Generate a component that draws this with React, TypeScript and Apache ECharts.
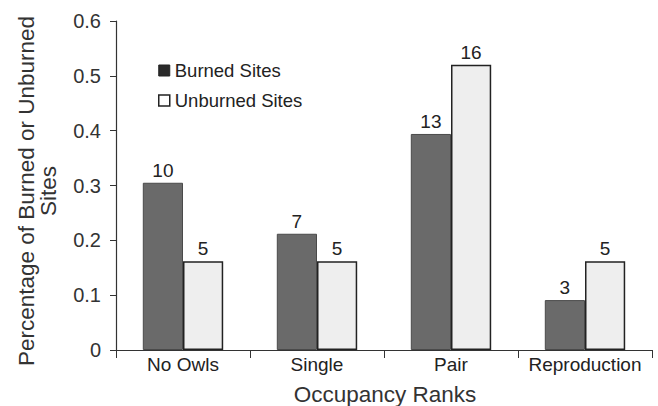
import React, { useEffect, useRef } from "react";
import * as echarts from "echarts";

const categories = ["No Owls", "Single", "Pair", "Reproduction"];
const burned = [0.305, 0.212, 0.394, 0.091];
const unburned = [0.162, 0.162, 0.52, 0.162];
const burnedCounts = ["10", "7", "13", "3"];
const unburnedCounts = ["5", "5", "16", "5"];
const yTitle1 = "Percentage of Burned or Unburned";
const yTitle2 = "Sites";
const xTitle = "Occupancy Ranks";

const FONT = "'Liberation Sans', Arial, sans-serif";

export default function App() {
  const ref = useRef<HTMLDivElement>(null);
  useEffect(() => {
    if (!ref.current) return;
    const chart = echarts.init(ref.current, null, { renderer: "svg" });
    chart.setOption({
      animation: false,
      backgroundColor: "#ffffff",
      textStyle: { fontFamily: FONT, color: "#222" },
      grid: { left: 116, right: 6, top: 21, bottom: 56 },
      legend: {
        orient: "vertical",
        left: 153,
        top: 56,
        itemWidth: 11,
        itemHeight: 11,
        itemGap: 11,
        textStyle: { fontFamily: FONT, fontSize: 18.5, color: "#222" },
        data: [
          { name: "Burned Sites", icon: "rect", itemStyle: { color: "#2a2a2a", borderColor: "#222", borderWidth: 1 } },
          { name: "Unburned Sites", icon: "rect", itemStyle: { color: "#ffffff", borderColor: "#222", borderWidth: 1.5 } },
        ],
      },
      xAxis: {
        type: "category",
        data: categories,
        axisLine: { lineStyle: { color: "#333", width: 1.2 } },
        axisTick: { show: true, length: 8, lineStyle: { color: "#333" } },
        axisLabel: { interval: 0, fontFamily: FONT, fontSize: 19, color: "#222", margin: 5 },
      },
      yAxis: {
        type: "value",
        min: 0,
        max: 0.6,
        interval: 0.1,
        splitLine: { show: false },
        axisLine: { show: true, lineStyle: { color: "#333", width: 1.2 } },
        axisTick: { show: true, length: 6, lineStyle: { color: "#333" } },
        axisLabel: {
          fontFamily: FONT,
          fontSize: 20,
          color: "#333",
          margin: 15,
          formatter: (v: number) => (v === 0 ? "0" : v.toFixed(1)),
        },
      },
      series: [
        {
          name: "Burned Sites",
          type: "bar",
          data: burned,
          barGap: "0%",
          barCategoryGap: "40%",
          itemStyle: { color: "#6a6a6a", borderColor: "#4a4a4a", borderWidth: 1 },
          label: {
            show: true,
            position: "top",
            distance: 3,
            fontFamily: FONT,
            fontSize: 19,
            color: "#222",
            formatter: (p: any) => burnedCounts[p.dataIndex],
          },
        },
        {
          name: "Unburned Sites",
          type: "bar",
          data: unburned,
          itemStyle: { color: "#eeeeee", borderColor: "#222", borderWidth: 1.5 },
          label: {
            show: true,
            position: "top",
            distance: 3,
            fontFamily: FONT,
            fontSize: 19,
            color: "#222",
            formatter: (p: any) => unburnedCounts[p.dataIndex],
          },
        },
      ],
      graphic: [
        {
          type: "text",
          x: 26,
          y: 191,
          rotation: Math.PI / 2,
          style: {
            text: yTitle1,
            fontFamily: FONT,
            fontSize: 22.5,
            fill: "#333",
            textAlign: "center",
            textVerticalAlign: "middle",
          },
        },
        {
          type: "text",
          x: 48,
          y: 191,
          rotation: Math.PI / 2,
          style: {
            text: yTitle2,
            fontFamily: FONT,
            fontSize: 22.5,
            fill: "#333",
            textAlign: "center",
            textVerticalAlign: "middle",
          },
        },
        {
          type: "text",
          x: 385,
          y: 394,
          style: {
            text: xTitle,
            fontFamily: FONT,
            fontSize: 22.5,
            fill: "#333",
            textAlign: "center",
            textVerticalAlign: "middle",
          },
        },
      ],
    });
    return () => chart.dispose();
  }, []);
  return <div ref={ref} style={{ width: 658, height: 406, position: "absolute", left: 0, top: 0 }} />;
}
